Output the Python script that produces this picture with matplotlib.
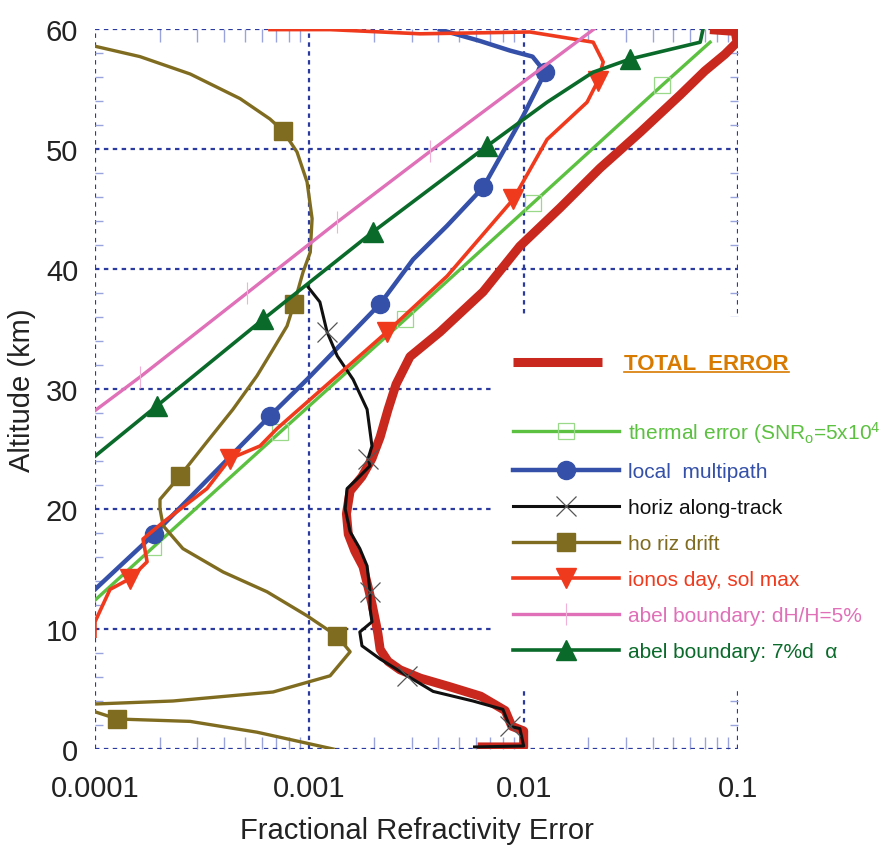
import matplotlib
matplotlib.use("Agg")
import matplotlib.pyplot as plt
from matplotlib import font_manager
from matplotlib.lines import Line2D
from matplotlib.patches import Rectangle
from matplotlib.ticker import LogLocator, MultipleLocator, FixedLocator, FixedFormatter, NullFormatter

# --- data (fractional error, altitude km) ---
total_x = [6.1e-3, 1.0e-2, 1.0e-2, 8.8e-3, 8.2e-3, 6.3e-3, 4.5e-3, 3.3e-3, 2.65e-3, 2.33e-3,
           2.14e-3, 2.09e-3, 2.05e-3, 1.96e-3, 1.88e-3, 1.78e-3, 1.63e-3, 1.52e-3, 1.49e-3, 1.55e-3,
           1.76e-3, 1.96e-3, 2.14e-3, 2.33e-3, 2.54e-3, 2.95e-3, 4.07e-3, 6.47e-3, 9.6e-3, 1.48e-2,
           2.27e-2, 3.5e-2, 5.37e-2, 7.0e-2, 8.7e-2, 9.9e-2, 9.7e-2, 7.4e-2]
total_y = [0.17, 0.17, 1.5, 1.9, 3.2, 4.4, 5.2, 5.9, 6.6, 7.3,
           8.3, 9.6, 10.4, 12.1, 13.5, 15.2, 16.5, 17.9, 19.6, 21.5,
           22.7, 24.2, 26.0, 28.3, 30.4, 32.7, 34.75, 38.1, 41.9, 45.1,
           48.4, 51.4, 54.5, 56.5, 57.9, 58.9, 59.8, 59.95]

thermal_x = [1.0e-4, 1.865e-4, 7.3e-4, 2.8e-3, 1.106e-2, 4.42e-2, 7.41e-2]
thermal_y = [12.4, 16.8, 26.4, 35.8, 45.5, 55.3, 58.9]
thermal_mk = [1, 2, 3, 4, 5]

multipath_x = [1.0e-4, 1.885e-4, 6.55e-4, 9.76e-4, 2.14e-3, 3.05e-3, 4.39e-3, 6.47e-3,
               9.94e-3, 1.26e-2, 1.1e-2, 8.64e-3, 6.26e-3, 4.07e-3]
multipath_y = [13.3, 17.9, 27.75, 30.8, 37.1, 40.8, 43.6, 46.8,
               52.75, 56.4, 57.7, 58.2, 59.0, 59.95]
multipath_mk = [1, 2, 4, 7, 9]

along_x = [9.76e-4, 1.12e-3, 1.21e-3, 1.35e-3, 1.6e-3, 1.86e-3, 1.96e-3, 1.88e-3, 1.92e-3, 1.67e-3,
           1.5e-3, 1.47e-3, 1.55e-3, 1.72e-3, 1.86e-3, 1.92e-3, 1.92e-3, 1.96e-3, 1.72e-3, 1.76e-3,
           2.14e-3, 2.86e-3, 3.78e-3, 5.8e-3, 8.0e-3, 8.6e-3, 9.6e-3, 1.0e-2, 5.9e-3]
along_y = [38.6, 37.25, 34.75, 32.75, 30.8, 28.3, 25.25, 24.2, 23.6, 22.5,
           21.7, 20.0, 18.1, 16.7, 15.25, 13.1, 11.7, 10.6, 9.75, 8.6,
           7.5, 6.1, 4.8, 4.0, 3.3, 1.9, 1.7, 0.25, 0.17]
along_mk = [2, 7, 15, 21, 25]

drift_x = [9.8e-5, 1.62e-4, 2.78e-4, 4.75e-4, 6.55e-4, 7.54e-4, 8.76e-4, 9.76e-4, 1.03e-3, 1.01e-3,
           9.35e-4, 8.49e-4, 7.87e-4, 6.77e-4, 5.7e-4, 4.4e-4, 3.33e-4, 2.49e-4, 2.01e-4, 2.01e-4,
           2.08e-4, 2.57e-4, 3.96e-4, 6.35e-4, 9.76e-4, 1.35e-3, 1.55e-3, 1.25e-3, 6.77e-4, 2.31e-4,
           1.0e-4, 8.5e-5, 1.0e-4, 1.27e-4, 2.78e-4, 5.7e-4, 1.29e-3]
drift_y = [58.6, 57.7, 56.25, 54.2, 52.5, 51.5, 49.75, 47.25, 44.2, 41.4,
           39.75, 37.1, 35.25, 33.3, 31.1, 28.3, 25.6, 22.75, 20.8, 20.0,
           18.6, 16.7, 14.75, 13.1, 11.1, 9.4, 8.1, 6.1, 4.75, 4.0,
           3.75, 3.4, 3.1, 2.5, 2.3, 1.4, 0.0]
drift_mk = [5, 11, 17, 25, 33]

ionos_x = [1.0e-4, 1.0e-4, 1.175e-4, 1.457e-4, 1.75e-4, 1.675e-4, 2.08e-4, 3.33e-4, 4.27e-4, 5.89e-4,
           7.07e-4, 9.76e-4, 2.3e-3, 4.39e-3, 8.93e-3, 1.286e-2, 1.976e-2, 2.225e-2, 2.35e-2, 2.11e-2,
           1.07e-2, 3.29e-3, 1.25e-3, 6.55e-4]
ionos_y = [9.4, 10.6, 13.3, 14.2, 15.6, 17.5, 18.9, 21.7, 24.2, 25.25,
           26.7, 28.9, 34.75, 39.4, 45.8, 50.8, 53.9, 55.7, 57.25, 58.9,
           59.75, 59.6, 59.95, 59.95]
ionos_mk = [3, 8, 12, 14, 17]

abel5_x = [1.0e-4, 1.622e-4, 5.12e-4, 1.347e-3, 3.66e-3, 2.13e-2]
abel5_y = [28.2, 31.0, 38.0, 43.9, 49.8, 60.0]
abel5_mk = [1, 2, 3, 4]

abel7_x = [1.0e-4, 1.946e-4, 6.08e-4, 1.983e-3, 6.75e-3, 1.286e-2, 2.108e-2, 3.137e-2, 6.66e-2, 6.87e-2]
abel7_y = [24.4, 28.6, 35.8, 43.1, 50.25, 53.9, 56.4, 57.5, 58.9, 60.0]
abel7_mk = [1, 2, 3, 4, 7]

x_ticks = [1e-4, 1e-3, 1e-2, 1e-1]
x_ticklabels = ["0.0001", "0.001", "0.01", "0.1"]
y_ticks = [0, 10, 20, 30, 40, 50, 60]

# --- fonts ---
names = {f.name for f in font_manager.fontManager.ttflist}
narrow = "Liberation Sans Narrow" if "Liberation Sans Narrow" in names else "Liberation Sans"
plt.rcParams["font.family"] = [narrow, "DejaVu Sans"]
plt.rcParams["mathtext.fontset"] = "custom"
plt.rcParams["mathtext.rm"] = narrow
plt.rcParams["mathtext.it"] = narrow

fig = plt.figure(figsize=(8.9, 8.53), dpi=100)
ax = fig.add_axes([95 / 890, 1 - 750 / 853, 643 / 890, 720 / 853])

c_total = "#C8281E"
c_thermal = "#5CC040"
c_blue = "#3450A8"
c_black = "#101010"
c_olive = "#806C20"
c_red = "#F03A1E"
c_pink = "#E070B8"
c_dkgreen = "#0A6A2A"
c_grid = "#2A3A9E"

ax.plot(total_x, total_y, color=c_total, lw=6.5, solid_capstyle="butt", solid_joinstyle="round")
l_th, = ax.plot(thermal_x, thermal_y, color=c_thermal, lw=2.4, marker="s", ms=12, mfc="none",
                mec="#9ad88a", mew=0.9, markevery=thermal_mk,
                label="thermal error (SNR$_\\mathrm{o}$=5x10$^\\mathrm{4}$")
l_mp, = ax.plot(multipath_x, multipath_y, color=c_blue, lw=3.2, marker="o", ms=13,
                markevery=multipath_mk, label="local  multipath")
l_al, = ax.plot(along_x, along_y, color=c_black, lw=2.2, marker="x", ms=14, mec="#555555",
                mew=0.9, markevery=along_mk, label="horiz along-track")
l_dr, = ax.plot(drift_x, drift_y, color=c_olive, lw=2.4, marker="s", ms=13,
                markevery=drift_mk, label="ho riz drift")
l_io, = ax.plot(ionos_x, ionos_y, color=c_red, lw=2.6, marker="v", ms=14,
                markevery=ionos_mk, label="ionos day, sol max")
l_a5, = ax.plot(abel5_x, abel5_y, color=c_pink, lw=2.4, marker="|", ms=16, mew=0.8,
                mec="#f0b0d8", markevery=abel5_mk, label="abel boundary: dH/H=5%")
l_a7, = ax.plot(abel7_x, abel7_y, color=c_dkgreen, lw=2.6, marker="^", ms=14,
                markevery=abel7_mk, label="abel boundary: 7%d  α")

ax.set_xscale("log")
ax.set_xlim(1e-4, 1e-1)
ax.set_ylim(0, 60)
for s in ax.spines.values():
    s.set_visible(False)

ax.xaxis.set_major_locator(FixedLocator(x_ticks))
ax.xaxis.set_major_formatter(FixedFormatter(x_ticklabels))
ax.xaxis.set_minor_locator(LogLocator(base=10, subs=range(2, 10)))
ax.xaxis.set_minor_formatter(NullFormatter())
ax.yaxis.set_major_locator(FixedLocator(y_ticks))
ax.yaxis.set_minor_locator(MultipleLocator(2))

ax.tick_params(which="both", direction="in", top=True, right=True)
ax.tick_params(which="major", length=0, labelsize=21, labelcolor="#222222")
ax.tick_params(axis="x", which="major", pad=18)
ax.tick_params(axis="y", which="major", pad=12)
ax.tick_params(axis="x", which="minor", length=9, width=1, color="#9aa4dc")
ax.tick_params(axis="y", which="minor", length=6, width=1, color="#9aa4dc")
ax.grid(True, which="major", color=c_grid, lw=1.6, ls=(0, (2.0, 2.0)))

ax.set_xlabel("Fractional Refractivity Error", fontsize=21, color="#222222", labelpad=10)
ax.set_ylabel("Altitude (km)", fontsize=21, color="#222222", labelpad=7)

# white area behind the legend
ax.add_artist(Rectangle((492 / 890, 1 - 692 / 853), 1 - 492 / 890, 374 / 853,
                        transform=fig.transFigure, fc="white", ec="none", zorder=1.8, clip_on=False))

fs = 15
leg = ax.legend(handles=[l_th, l_mp, l_al, l_dr, l_io, l_a5, l_a7], loc="upper left",
                bbox_to_anchor=(513 / 890, 1 - 420 / 853), bbox_transform=fig.transFigure,
                frameon=False, borderpad=0, borderaxespad=0, fontsize=fs, numpoints=1,
                handlelength=5.1, handletextpad=0.4, labelspacing=0.82, labelcolor="linecolor")
ax.add_artist(leg)

tot_handle = Line2D([], [], color=c_total, lw=6.5, solid_capstyle="butt")
leg2 = ax.legend(handles=[tot_handle], labels=["TOTAL  ERROR"], loc="center left",
                 bbox_to_anchor=(513 / 890, 1 - 365 / 853), bbox_transform=fig.transFigure,
                 frameon=False, borderpad=0, borderaxespad=0, handlelength=4.0, handletextpad=1.0,
                 prop={"size": 16, "weight": "bold"})
tt = leg2.get_texts()[0]
tt.set_color("#D87A00")

fig.canvas.draw()
bb = tt.get_window_extent().transformed(fig.transFigure.inverted())
fig.add_artist(Line2D([bb.x0, bb.x1], [bb.y0 + 0.003, bb.y0 + 0.003], color="#D87A00", lw=1.2,
                      transform=fig.transFigure))

fig.savefig("out.png", dpi=100)
